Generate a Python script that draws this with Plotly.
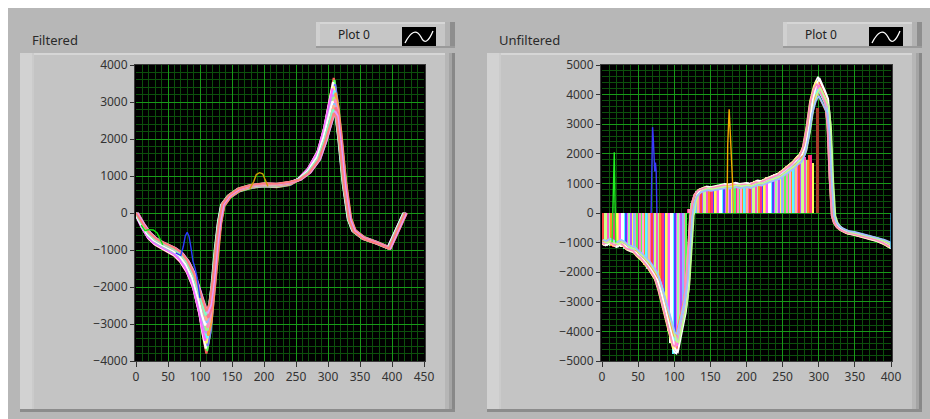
import numpy as np
import plotly.graph_objects as go

W, H = 930, 419

# ---------------- Filtered chart data ----------------
filt_x = [0, 10, 20, 30, 40, 50, 60, 70, 80, 90, 100, 105, 110, 115, 120, 125, 130, 135, 145, 160,
          180, 200, 220, 240, 255, 270, 285, 295, 303, 309, 313, 318, 325, 333, 340, 355, 375, 395, 420]
filt_outer = [0, -400, -700, -860, -960, -1050, -1160, -1340, -1620, -2050, -2800, -3350, -3800, -3300, -2300,
              -1200, -350, 150, 400, 580, 680, 720, 700, 760, 930, 1220, 1700, 2350, 3150, 3650, 3100, 2300,
              1000, -100, -450, -650, -780, -930, 0]
filt_inner = [0, -280, -520, -680, -780, -860, -940, -1060, -1280, -1620, -2150, -2450, -2650, -2450, -1800,
              -900, -200, 250, 480, 660, 760, 800, 790, 840, 900, 1080, 1420, 1900, 2400, 2700, 2600, 1900,
              700, -200, -500, -700, -820, -960, 0]
filt_mix = [1.0, 0.94, 0.88, 0.82, 0.76, 0.7, 0.64, 0.58, 0.52, 0.46, 0.4, 0.34, 0.28, 0.22, 0.16, 0.1, 0.05, 0.0]
filt_shift = [0, 1, -1, 2, 0, -2, 1, 3, -1, 0, 2, -2, 1, 0, 3, -1, 2, 0]
filt_colors = ['#ff5a5a', '#5aff5a', '#ffffff', '#7a7aff', '#ffff66', '#ff66ff', '#66ffff', '#ffa040',
               '#c090ff', '#a0ff80', '#ff90c0', '#ffffff', '#90c0ff', '#ffb090', '#ff7090', '#80ffc0',
               '#e0a0ff', '#ff8080']

blue_bump_x = [62, 70, 74, 77, 80, 83, 86, 89, 92, 95, 100]
blue_bump_y = [-1080, -1150, -900, -620, -520, -640, -950, -1300, -1480, -1700, -2300]
olive_bump_x = [178, 184, 188, 193, 198, 202, 206]
olive_bump_y = [660, 850, 1040, 1090, 1060, 860, 720]
green_bump_x = [8, 14, 20, 27, 33, 37, 42]
green_bump_y = [-330, -480, -450, -460, -540, -700, -860]

# ---------------- Unfiltered chart data ----------------
unf_x = [0, 5, 10, 15, 20, 25, 30, 35, 40, 45, 50, 55, 60, 65, 70, 75, 80, 85, 90, 95,
         100, 103, 106, 110, 114, 118, 121, 124, 127, 130, 135, 140, 145, 150, 155, 160, 165, 170, 175, 180,
         185, 190, 195, 200, 205, 210, 215, 220, 225, 230, 235, 240, 245, 250, 255, 260, 265, 270, 275, 280,
         285, 290, 295, 299, 303, 307, 311, 314, 317, 320, 323, 327, 332, 340, 350, 360, 370, 380, 390, 398, 400]
unf_y = [-1050, -1100, -1000, -1080, -1150, -1050, -1120, -1250, -1300, -1350, -1500, -1600, -1750, -1900,
         -2100, -2300, -2700, -3200, -3800, -4300, -4700, -4750, -4400, -3900, -3400, -2600, -1200, -100, 400,
         650, 800, 850, 900, 870, 900, 920, 950, 980, 960, 1000, 1020, 980, 1000, 1020, 980, 1050, 1100, 1080,
         1150, 1200, 1250, 1300, 1350, 1450, 1550, 1650, 1750, 1900, 2000, 2300, 3000, 3900, 4400, 4600, 4400,
         4150, 3900, 3100, 1200, -100, -350, -500, -600, -700, -750, -820, -880, -950, -1050, -1150, -1200]
unf_gain = [1.0, 0.96, 0.93, 0.9, 0.97, 0.94, 0.91, 0.88, 0.99, 0.95, 0.92, 0.86]
unf_shift = [0, 1, -1, 2, -2, 1, 0, -1, 2, -2, 3, 1]
unf_colors = ['#ffffff', '#ff6a6a', '#6aff6a', '#7a7aff', '#ffff70', '#ff70ff', '#70ffff', '#ffa050',
              '#ffffff', '#ff90c0', '#c0ff90', '#a0c0ff']

stripe_x = list(range(0, 293, 4))
stripe_y = [-1080, -1120, -1050, -1100, -1150, -1130, -1080, -1150, -1220, -1260, -1300, -1350, -1450, -1550,
            -1650, -1750, -1880, -2000, -2150, -2300, -2650, -3100, -3550, -4000, -4400, -4750, -4650, -4150,
            -3650, -3100,
            150, 350, 600, 750, 820, 850, 880, 860, 900, 920, 900, 940, 980, 960, 990, 1000, 1020, 990, 1000,
            1010, 990, 1030, 1050, 1080, 1100, 1090, 1150, 1200, 1230, 1280, 1320, 1360, 1420, 1500, 1580,
            1650, 1720, 1820, 1950, 2050, 1900, 1800, 1950, 1700]
stripe_palette = ['#ff55cc', '#ffffff', '#55ff55', '#ff4040', '#ffff55', '#bb55ff', '#55ffff', '#ff9020',
                  '#4a4aff', '#ff88c0', '#ccff88', '#ff55ff', '#88bbff', '#ffbb88', '#ff2a8a', '#a0ffa0',
                  '#ffa0e0']

spike_green_x = [14, 15, 16, 17, 18, 19]
spike_green_y = [-1000, 0, 1800, 2050, 400, -1000]
spike_blue_x = [68, 69, 70, 71, 72, 73, 74, 75, 76]
spike_blue_y = [0, 1500, 2900, 2500, 1700, 1400, 1700, 1400, 0]
spike_orange_x = [173, 174, 176, 177, 178, 179, 180, 181, 182]
spike_orange_y = [0, 2300, 3500, 3000, 2900, 2300, 1500, 900, 0]
red_bar_x = [298]
red_bar_y = [3550]
end_line_x = [400, 400]
end_line_y = [0, -1200]

# ---------------- figure ----------------
fig = go.Figure()

def px(x):
    return x / W

def py(y):
    return 1 - y / H

shapes = []

def rect(x0, y0, x1, y1, color, layer='below'):
    shapes.append(dict(type='rect', xref='paper', yref='paper', x0=px(x0), x1=px(x1), y0=py(y1), y1=py(y0),
                       fillcolor=color, line=dict(width=0), layer=layer))

PAGE = '#b7b7b7'
FRAME = '#c4c4c4'
rect(8, 8, W, H, PAGE)
for fx0, fx1 in [(20, 455), (487, 922)]:
    rect(fx0, 53, fx1, 412, FRAME)
    rect(fx0, 53, fx1, 55, '#d6d6d6')
    rect(fx0, 53, fx0 + 12, 410, '#d2d2d2')
    rect(fx0 + 12, 53, fx0 + 14, 410, '#cbcbcb')
    rect(fx1 - 10, 53, fx1 - 6, 412, '#b6b6b6')
    rect(fx1 - 6, 53, fx1 - 3, 412, '#a4a4a4')
    rect(fx1 - 3, 53, fx1, 412, '#888888')
    rect(fx0, 409, fx1, 412, '#8c8c8c')

# legend boxes
for lx0, lx1, ix0 in [(316, 455, 402), (783, 922, 869)]:
    rect(lx0, 22, lx1, 48, '#c6c6c6')
    rect(lx0, 22, lx1, 24, '#d6d6d6')
    rect(lx0, 22, lx0 + 4, 48, '#d0d0d0')
    rect(lx1 - 10, 22, lx1 - 5, 48, '#b2b2b2')
    rect(lx1 - 5, 22, lx1, 48, '#8e8e8e')
    rect(lx0, 46, lx1, 48, '#9a9a9a')
    rect(ix0, 27, ix0 + 34, 46, '#000000')
    p = 'M {} {} Q {} {} {} {} Q {} {} {} {}'.format(
        px(ix0 + 3), py(43), px(ix0 + 12), py(25), px(ix0 + 19), py(37),
        px(ix0 + 24), py(48), px(ix0 + 31), py(31))
    shapes.append(dict(type='path', xref='paper', yref='paper', path=p,
                       line=dict(color='#ffffff', width=1.3), layer='below'))

# plot-area black backgrounds
rect(134, 64, 426, 362, '#3a3a3a')
rect(135, 65, 425, 361, '#000000')
rect(600, 64, 893, 362, '#3a3a3a')
rect(601, 65, 892, 361, '#000000')

# ---- Filtered traces
fo = np.array(filt_outer, dtype=float)
fi = np.array(filt_inner, dtype=float)
fx = np.array(filt_x, dtype=float)
for k, (t, s) in enumerate(zip(filt_mix, filt_shift)):
    fig.add_trace(go.Scatter(x=fx + s, y=fi + t * (fo - fi), mode='lines',
                             line=dict(color=filt_colors[k % len(filt_colors)], width=2.2),
                             xaxis='x', yaxis='y', hoverinfo='skip', showlegend=False))
fig.add_trace(go.Scatter(x=blue_bump_x, y=blue_bump_y, mode='lines', line=dict(color='#2a3cff', width=1.4),
                         xaxis='x', yaxis='y', showlegend=False))
fig.add_trace(go.Scatter(x=olive_bump_x, y=olive_bump_y, mode='lines', line=dict(color='#c8a200', width=1.4),
                         xaxis='x', yaxis='y', showlegend=False))
fig.add_trace(go.Scatter(x=green_bump_x, y=green_bump_y, mode='lines', line=dict(color='#10e010', width=1.4),
                         xaxis='x', yaxis='y', showlegend=False))

# ---- Unfiltered traces: each stripe value drawn as two narrow coloured bars
n = len(stripe_x)
bx = [v for v in stripe_x] + [v + 2 for v in stripe_x]
by = stripe_y + stripe_y
bc = [stripe_palette[(i * 5) % len(stripe_palette)] for i in range(n)] + \
     [stripe_palette[(i * 7 + 3) % len(stripe_palette)] for i in range(n)]
fig.add_trace(go.Bar(x=bx, y=by, width=2, offset=-2, marker=dict(color=bc, line=dict(width=0)),
                     xaxis='x2', yaxis='y2', showlegend=False))
fig.add_trace(go.Bar(x=red_bar_x, y=red_bar_y, width=4, marker=dict(color='#a83a2a', line=dict(width=0)),
                     xaxis='x2', yaxis='y2', showlegend=False))
ux = np.array(unf_x, dtype=float)
uy = np.array(unf_y, dtype=float)
for k, (g, s) in enumerate(zip(unf_gain, unf_shift)):
    fig.add_trace(go.Scatter(x=ux + s, y=uy * g, mode='lines',
                             line=dict(color=unf_colors[k % len(unf_colors)], width=1.8),
                             xaxis='x2', yaxis='y2', hoverinfo='skip', showlegend=False))
for sx, sy, c in [(spike_green_x, spike_green_y, '#20f020'), (spike_blue_x, spike_blue_y, '#3a3aff'),
                  (spike_orange_x, spike_orange_y, '#f0a800'), (end_line_x, end_line_y, '#2a9ad0')]:
    fig.add_trace(go.Scatter(x=sx, y=sy, mode='lines', line=dict(color=c, width=1.4),
                             xaxis='x2', yaxis='y2', showlegend=False))

FONT = 'Noto Sans'
tickfont = dict(family=FONT, size=12, color='#333333')
common = dict(showgrid=True, gridcolor='#189a18', gridwidth=1, zeroline=False, ticks='outside', ticklen=5,
              tickcolor='#333333', tickwidth=1, tickfont=tickfont, showline=False, fixedrange=True,
              automargin=False)
MINOR = '#0c500c'

fig.update_layout(
    template='none',
    width=W, height=H, margin=dict(l=0, r=0, t=0, b=0, pad=0, autoexpand=False), autosize=False,
    paper_bgcolor='#ffffff', plot_bgcolor='rgba(0,0,0,0)', barmode='overlay', bargap=0,
    showlegend=False, shapes=shapes,
    xaxis=dict(domain=[px(136), px(424)], range=[0, 450], dtick=50, anchor='y',
               minor=dict(dtick=10, showgrid=True, gridcolor=MINOR, ticks=''), **common),
    yaxis=dict(domain=[py(361), py(65)], range=[-4000, 4000], dtick=1000, anchor='x',
               minor=dict(dtick=200, showgrid=True, gridcolor=MINOR, ticks=''), **common),
    xaxis2=dict(domain=[px(602), px(891)], range=[0, 400], dtick=50, anchor='y2',
                minor=dict(dtick=10, showgrid=True, gridcolor=MINOR, ticks=''), **common),
    yaxis2=dict(domain=[py(361), py(65)], range=[-5000, 5000], dtick=1000, anchor='x2',
                minor=dict(dtick=200, showgrid=True, gridcolor=MINOR, ticks=''), **common),
    annotations=[
        dict(text='Filtered', x=px(30), y=py(40), xref='paper', yref='paper', xanchor='left', yanchor='middle',
             showarrow=False, font=dict(family=FONT, size=13, color='#2a2a2a')),
        dict(text='Unfiltered', x=px(497), y=py(40), xref='paper', yref='paper', xanchor='left', yanchor='middle',
             showarrow=False, font=dict(family=FONT, size=13, color='#2a2a2a')),
        dict(text='Plot 0', x=px(354), y=py(35), xref='paper', yref='paper', xanchor='center', yanchor='middle',
             showarrow=False, font=dict(family=FONT, size=12, color='#222222')),
        dict(text='Plot 0', x=px(821), y=py(35), xref='paper', yref='paper', xanchor='center', yanchor='middle',
             showarrow=False, font=dict(family=FONT, size=12, color='#222222')),
    ],
)

post = (
    "var de=document.documentElement, bd=document.body;"
    "de.style.margin='0';de.style.padding='0';de.style.overflow='hidden';de.style.height='419px';"
    "bd.style.margin='0';bd.style.padding='0';bd.style.overflow='hidden';bd.style.height='419px';"
    "var gd=document.querySelector('.plotly-graph-div');"
    "gd.style.position='fixed';gd.style.left='0px';gd.style.top='0px';"
)
fig.write_html('out.html', config={'responsive': False, 'displayModeBar': False}, post_script=post)
